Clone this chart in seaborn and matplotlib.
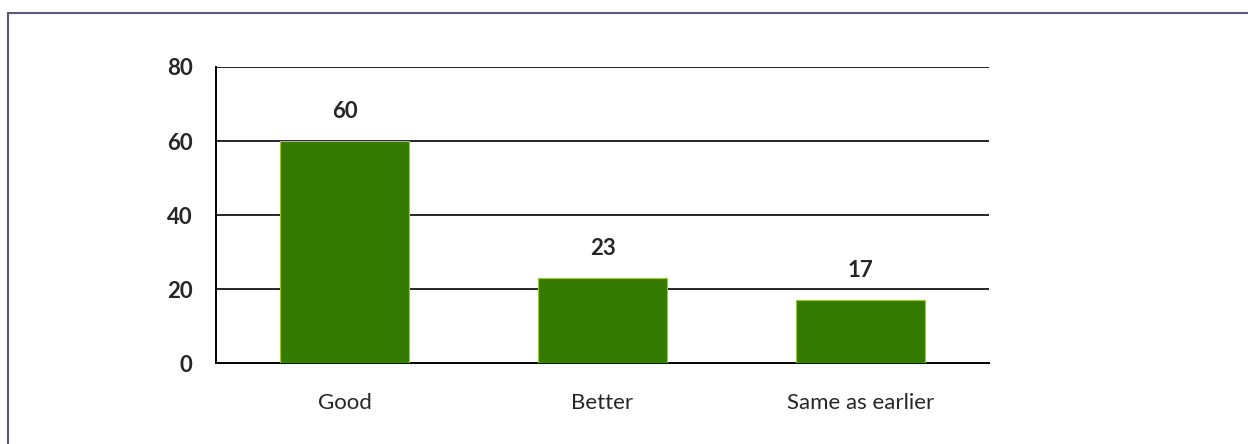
import matplotlib
matplotlib.use("Agg")
import matplotlib.pyplot as plt
import pandas as pd
import seaborn as sns
from matplotlib.lines import Line2D

# chart data
categories = ["Good", "Better", "Same as earlier"]
values = [60, 23, 17]
y_ticks = [0, 20, 40, 60, 80]

df = pd.DataFrame({"category": categories, "value": values})

sns.set_style("white")
plt.rcParams["font.family"] = ["Lato", "DejaVu Sans"]

fig = plt.figure(figsize=(12.48, 4.44), dpi=100)
ax = fig.add_axes([0.1731, 0.1824, 0.6194, 0.6667])

sns.barplot(
    data=df,
    x="category",
    y="value",
    color="#347a00",
    saturation=1,
    width=0.5,
    edgecolor="#9ccc2a",
    linewidth=0.8,
    ax=ax,
    zorder=3,
)

ax.set_ylim(0, 80)
ax.set_xlim(-0.5, len(categories) - 0.5)
ax.set_yticks(y_ticks)
ax.set_yticklabels([str(t) for t in y_ticks], fontsize=16, fontweight="bold")
ax.set_xlabel("")
ax.set_ylabel("")

# horizontal gridlines
for t in y_ticks[1:]:
    ax.axhline(t, color="black", linewidth=1.2, zorder=1)

# category labels below, ticks between categories
ax.set_xticks([i - 0.5 for i in range(len(categories) + 1)])
ax.set_xticklabels([])
ax.tick_params(axis="x", direction="out", length=8, width=1.2, color="black")
ax.tick_params(axis="y", direction="out", length=7, width=1.2, color="black", pad=10)
for i, name in enumerate(categories):
    ax.text(i, -10.8, name, ha="center", va="center", fontsize=16)

for side in ["top", "right"]:
    ax.spines[side].set_visible(False)
for side in ["left", "bottom"]:
    ax.spines[side].set_color("black")
    ax.spines[side].set_linewidth(1.4)

# value labels
for i, v in enumerate(values):
    ax.text(i, v + 8, str(v), ha="center", va="center", fontsize=16, fontweight="bold")

# outer frame (top and left edges visible)
fig.add_artist(Line2D([8 / 1248, 1.0], [1 - 13 / 444, 1 - 13 / 444], color="#5a5878", linewidth=1.5))
fig.add_artist(Line2D([8 / 1248, 8 / 1248], [0.0, 1 - 13 / 444], color="#5a5878", linewidth=1.5))

fig.savefig("out.png", dpi=100, facecolor="white")
